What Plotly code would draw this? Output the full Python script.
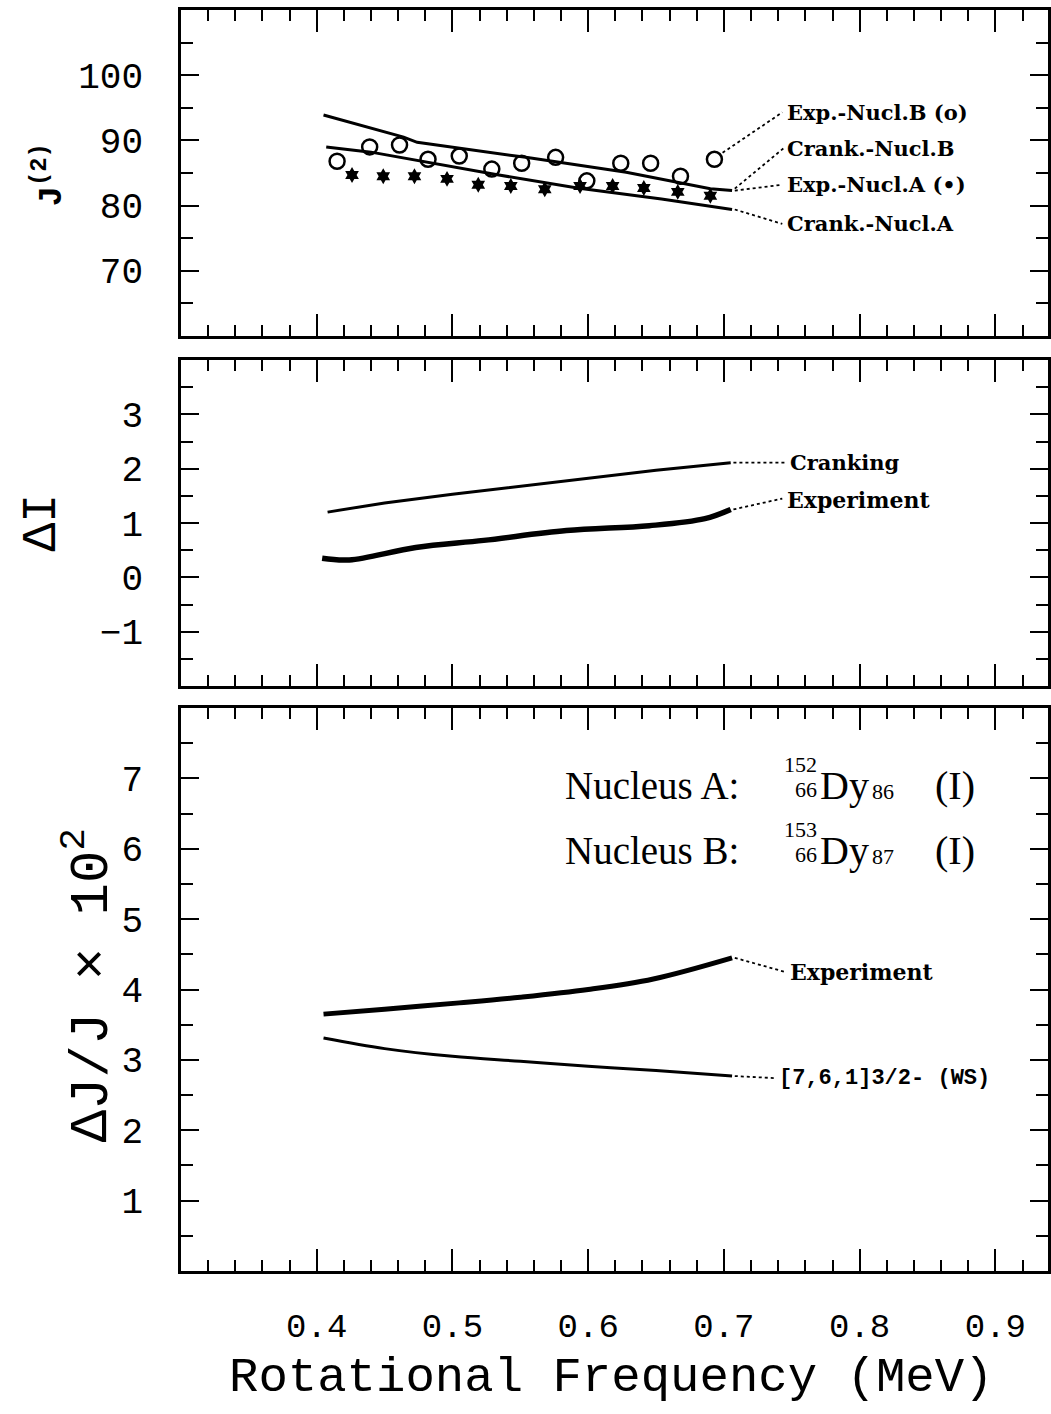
import plotly.graph_objects as go

# ---------------- data ----------------
# Top panel: J(2)
crankB_x = [0.405, 0.464, 0.474, 0.554, 0.628, 0.690, 0.706]
crankB_y = [93.9, 90.5, 89.7, 87.4, 85.1, 82.6, 82.3]
crankA_x = [0.407, 0.440, 0.531, 0.592, 0.654, 0.706]
crankA_y = [89.0, 88.2, 84.8, 82.7, 81.0, 79.4]
expB_x = [0.415, 0.439, 0.461, 0.482, 0.505, 0.529, 0.551, 0.576, 0.599, 0.624, 0.646, 0.668, 0.693]
expB_y = [86.8, 89.0, 89.3, 87.1, 87.6, 85.6, 86.5, 87.4, 83.8, 86.5, 86.5, 84.5, 87.1]
expA_x = [0.426, 0.449, 0.472, 0.496, 0.519, 0.543, 0.568, 0.594, 0.618, 0.641, 0.666, 0.690]
expA_y = [84.7, 84.5, 84.5, 84.1, 83.2, 83.0, 82.5, 83.0, 83.0, 82.7, 82.1, 81.5]

# Middle panel: Delta I
crankI_x = [0.408, 0.45, 0.50, 0.55, 0.60, 0.65, 0.705]
crankI_y = [1.20, 1.37, 1.53, 1.68, 1.83, 1.97, 2.11]
expI_x = [0.404, 0.424, 0.473, 0.523, 0.584, 0.645, 0.686, 0.705]
expI_y = [0.35, 0.32, 0.55, 0.68, 0.86, 0.95, 1.08, 1.25]

# Bottom panel: Delta J / J x 10^2
expJ_x = [0.405, 0.45, 0.505, 0.55, 0.60, 0.648, 0.706]
expJ_y = [3.65, 3.72, 3.81, 3.89, 4.00, 4.15, 4.45]
wsJ_x = [0.405, 0.45, 0.50, 0.55, 0.60, 0.65, 0.706]
wsJ_y = [3.31, 3.16, 3.05, 2.98, 2.91, 2.85, 2.77]

x_tickvals = [0.4, 0.5, 0.6, 0.7, 0.8, 0.9]
x_ticktext = ["0.4", "0.5", "0.6", "0.7", "0.8", "0.9"]
y1_ticks = [70, 80, 90, 100]
y2_ticks = [-1, 0, 1, 2, 3]
y3_ticks = [1, 2, 3, 4, 5, 6, 7]

# ---------------- geometry ----------------
W, H = 1051, 1414
L, R, T, B = 181, 0, 10, 143
PW, PH = W - L - R, H - T - B


def px2x(px):
    return (px - L) / PW


def py2y(py):
    return (H - B - py) / PH


MONO = "Liberation Mono"
SERIF = "Liberation Serif"
LAB = "DejaVu Serif"

fig = go.Figure()

# top
fig.add_trace(go.Scatter(x=crankB_x, y=crankB_y, mode="lines", line=dict(color="black", width=3),
                         xaxis="x", yaxis="y", showlegend=False))
fig.add_trace(go.Scatter(x=crankA_x, y=crankA_y, mode="lines", line=dict(color="black", width=3),
                         xaxis="x", yaxis="y", showlegend=False))
fig.add_trace(go.Scatter(x=expB_x, y=expB_y, mode="markers",
                         marker=dict(symbol="circle-open", size=15, color="black", line=dict(width=2.5, color="black")),
                         xaxis="x", yaxis="y", showlegend=False))
fig.add_trace(go.Scatter(x=expA_x, y=expA_y, mode="markers",
                         marker=dict(symbol="hexagram", size=12, color="black"),
                         xaxis="x", yaxis="y", showlegend=False))
# middle
fig.add_trace(go.Scatter(x=crankI_x, y=crankI_y, mode="lines", line=dict(color="black", width=3),
                         xaxis="x2", yaxis="y2", showlegend=False))
fig.add_trace(go.Scatter(x=expI_x, y=expI_y, mode="lines", line=dict(color="black", width=5.5, shape="spline"),
                         xaxis="x2", yaxis="y2", showlegend=False))
# bottom
fig.add_trace(go.Scatter(x=expJ_x, y=expJ_y, mode="lines", line=dict(color="black", width=5, shape="spline"),
                         xaxis="x3", yaxis="y3", showlegend=False))
fig.add_trace(go.Scatter(x=wsJ_x, y=wsJ_y, mode="lines", line=dict(color="black", width=3, shape="spline"),
                         xaxis="x3", yaxis="y3", showlegend=False))

XR = [0.3, 0.3 + PW / 1362.0]


def xax(anchor, labels):
    return dict(
        range=XR, anchor=anchor, domain=[0, 1],
        showline=True, linecolor="black", linewidth=2.5, mirror="allticks",
        ticks="inside", ticklen=22, tickwidth=2, tickcolor="black",
        tickvals=x_tickvals, ticktext=x_ticktext, showticklabels=labels,
        tickfont=dict(family=MONO, size=34, color="black"), ticklabelstandoff=22,
        minor=dict(ticks="inside", ticklen=11, tickwidth=1.5, tickcolor="black", dtick=0.02, tick0=0.3, showgrid=False),
        showgrid=False, zeroline=False,
    )


def yax(anchor, rng, tv, minor_d, dom):
    return dict(
        range=rng, anchor=anchor, domain=dom,
        showline=True, linecolor="black", linewidth=2.5, mirror="allticks",
        ticks="inside", ticklen=18, tickwidth=2, tickcolor="black",
        tickvals=tv, tickfont=dict(family=MONO, size=36, color="black"), ticklabelstandoff=28,
        minor=dict(ticks="inside", ticklen=12, tickwidth=1.5, tickcolor="black", dtick=minor_d, showgrid=False),
        showgrid=False, zeroline=False,
    )


dom_top = [py2y(336), py2y(10)]
dom_mid = [py2y(686), py2y(360)]
dom_bot = [py2y(1271), py2y(708)]

fig.update_layout(
    width=W, height=H,
    margin=dict(l=L, r=R, t=T, b=B),
    paper_bgcolor="white", plot_bgcolor="white",
    xaxis=xax("y", False),
    xaxis2=xax("y2", False),
    xaxis3=xax("y3", True),
    yaxis=yax("x", [60, 110], y1_ticks, 5, dom_top),
    yaxis2=yax("x2", [-2, 4], y2_ticks, 0.5, dom_mid),
    yaxis3=yax("x3", [0, 8], y3_ticks, 0.5, dom_bot),
    showlegend=False,
)

annotations = []
shapes = []


def label(text, x, y, xr, yr, size=21, family=LAB, bold=True):
    annotations.append(dict(
        text=("<b>%s</b>" % text) if bold else text, x=x, y=y, xref=xr, yref=yr,
        xanchor="left", yanchor="middle", showarrow=False,
        font=dict(family=family, size=size, color="black")))


def leader(x0, y0, x1, y1, xr, yr):
    shapes.append(dict(type="line", x0=x0, y0=y0, x1=x1, y1=y1, xref=xr, yref=yr,
                       line=dict(color="black", width=1.8, dash="dot")))


# top-panel labels
label("Exp.-Nucl.B (o)", 0.745, 94.3, "x", "y")
label("Crank.-Nucl.B", 0.745, 88.8, "x", "y")
label("Exp.-Nucl.A (•)", 0.745, 83.2, "x", "y")
label("Crank.-Nucl.A", 0.745, 77.2, "x", "y")
leader(expB_x[-1] + 0.006, expB_y[-1] + 1.0, 0.743, 94.3, "x", "y")
leader(crankB_x[-1] + 0.002, crankB_y[-1] + 0.3, 0.744, 88.8, "x", "y")
leader(crankB_x[-1] + 0.002, crankB_y[-1], 0.743, 83.2, "x", "y")
leader(crankA_x[-1] + 0.002, crankA_y[-1], 0.743, 77.2, "x", "y")

# middle-panel labels
label("Cranking", 0.747, 2.11, "x2", "y2")
label("Experiment", 0.745, 1.42, "x2", "y2", size=22)
leader(crankI_x[-1] + 0.002, crankI_y[-1], 0.745, 2.11, "x2", "y2")
leader(expI_x[-1] + 0.002, expI_y[-1], 0.743, 1.45, "x2", "y2")

# bottom-panel labels
label("Experiment", 0.747, 4.25, "x3", "y3", size=22)
label("[7,6,1]3/2- (WS)", 0.739, 2.74, "x3", "y3", size=22, family=MONO)
leader(expJ_x[-1] + 0.002, expJ_y[-1], 0.745, 4.25, "x3", "y3")
leader(wsJ_x[-1] + 0.002, wsJ_y[-1], 0.738, 2.74, "x3", "y3")


def ptext(text, px, py, size, xanchor="left", family=SERIF):
    annotations.append(dict(text=text, x=px2x(px), y=py2y(py), xref="paper", yref="paper",
                            xanchor=xanchor, yanchor="middle", showarrow=False,
                            font=dict(family=family, size=size, color="black")))


for dy, name, mass, n in [(0, "A", "152", "86"), (65, "B", "153", "87")]:
    ptext("Nucleus %s:" % name, 564, 785 + dy, 39)
    ptext(mass, 821, 764 + dy, 22, xanchor="right")
    ptext("66", 821, 789 + dy, 22, xanchor="right")
    ptext("Dy", 820, 785 + dy, 40)
    ptext(n, 872, 791 + dy, 22)
    ptext("(I)", 936, 785 + dy, 40)

# axis titles
annotations.append(dict(text="<b>J<sup>(2)</sup></b>", x=px2x(48), y=py2y(175), xref="paper", yref="paper",
                        xanchor="center", yanchor="middle", showarrow=False, textangle=-90,
                        font=dict(family=MONO, size=34, color="black")))
annotations.append(dict(text="ΔI", x=px2x(42), y=py2y(522), xref="paper", yref="paper",
                        xanchor="center", yanchor="middle", showarrow=False, textangle=-90,
                        font=dict(family=MONO, size=48, color="black")))
annotations.append(dict(text="ΔJ/J × 10<sup>2</sup>", x=px2x(88), y=py2y(985), xref="paper", yref="paper",
                        xanchor="center", yanchor="middle", showarrow=False, textangle=-90,
                        font=dict(family=MONO, size=54, color="black")))
annotations.append(dict(text="Rotational Frequency (MeV)", x=px2x(613), y=py2y(1378), xref="paper", yref="paper",
                        xanchor="center", yanchor="middle", showarrow=False,
                        font=dict(family=MONO, size=49, color="black")))

fig.update_layout(annotations=annotations, shapes=shapes)
fig.write_html("out.html", config={"displayModeBar": False},
               post_script="document.body.style.margin='0px';document.body.style.overflow='hidden';")
